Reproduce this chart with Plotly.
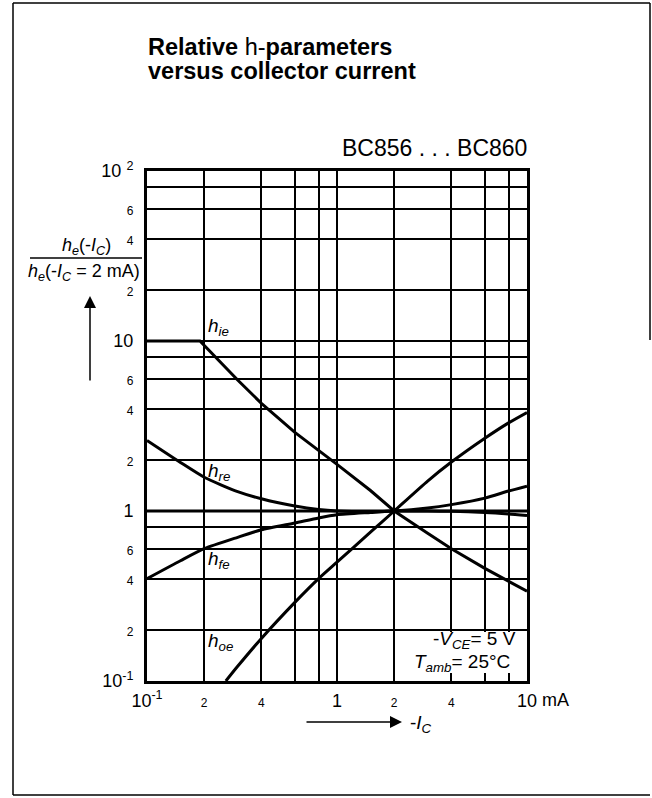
import math
import plotly.graph_objects as go

# ---- data ----
ic_hie = [0.1, 0.19, 0.3, 0.4, 0.6, 0.8, 1, 1.5, 2, 3, 4, 6, 8, 10]
hie = [10, 10, 5.9, 4.3, 2.9, 2.28, 1.88, 1.32, 1.0, 0.74, 0.6, 0.46, 0.385, 0.337]

ic_hre = [0.1, 0.15, 0.2, 0.3, 0.4, 0.6, 0.8, 1, 1.5, 2, 3, 4, 6, 8, 10]
hre = [2.6, 1.93, 1.58, 1.3, 1.18, 1.07, 1.02, 1.0, 0.99, 1.0, 1.04, 1.09, 1.19, 1.31, 1.40]

ic_hfe = [0.1, 0.15, 0.2, 0.3, 0.4, 0.6, 0.8, 1, 1.5, 2, 3, 4, 6, 8, 10]
hfe = [0.40, 0.51, 0.60, 0.70, 0.775, 0.85, 0.91, 0.95, 0.98, 1.0, 1.0, 0.995, 0.98, 0.96, 0.94]

ic_hoe = [0.26, 0.3, 0.4, 0.6, 0.8, 1, 1.5, 2, 3, 4, 6, 8, 10]
hoe = [0.1, 0.122, 0.178, 0.29, 0.40, 0.50, 0.75, 1.0, 1.5, 1.94, 2.68, 3.3, 3.8]

x_tickvals = [0.1, 0.2, 0.4, 1, 2, 4, 10]
x_ticktext = ["10<sup>-1</sup>", "2", "4", "1", "2", "4", "10"]
x_small = [False, True, True, False, True, True, False]
x_minor = [0.6, 0.8, 6, 8]

y_tickvals = [0.1, 0.2, 0.4, 0.6, 1, 2, 4, 6, 10, 20, 40, 60, 100]
y_ticktext = ["10<sup>-1</sup>", "2", "4", "6", "1", "2", "4", "6", "10", "2", "4", "6", "10 <sup>2</sup>"]
y_small = [False, True, True, True, False, True, True, True, False, True, True, True, False]
y_minor = [0.8, 8, 80]

curve_labels = ["h<sub>ie</sub>", "h<sub>re</sub>", "h<sub>fe</sub>", "h<sub>oe</sub>"]
curve_label_y = [12.1, 1.7, 0.515, 0.17]

FONT = "Liberation Sans"


def fmt(texts, smalls, small):
    out = []
    for t, s in zip(texts, smalls):
        if s:
            out.append('<span style="font-size:%dpx">%s</span>' % (small, t))
        else:
            out.append(t)
    return out


fig = go.Figure()
series = [(ic_hie, hie, "linear"), (ic_hre, hre, "spline"), (ic_hfe, hfe, "spline"), (ic_hoe, hoe, "spline")]
for xs, ys, shp in series:
    ln = dict(color="black", width=3, shape=shp)
    if shp == "spline":
        ln["smoothing"] = 0.6
    fig.add_trace(go.Scatter(x=xs, y=ys, mode="lines", line=ln, showlegend=False, hoverinfo="skip"))

W, H = 652, 798
L, R, T, B = 147, 125, 171, 117
pw, ph = W - L - R, H - T - B


def px(xp):
    return (xp - L) / pw


def py(yp):
    return (H - B - yp) / ph


fig.update_layout(
    width=W, height=H,
    margin=dict(l=L, r=R, t=T, b=B, pad=0),
    paper_bgcolor="white", plot_bgcolor="white",
    font=dict(family=FONT, color="black", size=18),
    showlegend=False,
)
fig.update_xaxes(type="log", range=[-1, 1], tickvals=x_tickvals,
                 ticktext=fmt(x_ticktext, x_small, 12),
                 showgrid=True, gridcolor="black", gridwidth=1.5,
                 minor=dict(tickvals=x_minor, showgrid=True, gridcolor="black", gridwidth=1.5, ticks=""),
                 showline=True, linecolor="black", linewidth=3, mirror=True,
                 ticks="", ticklabelstandoff=1, tickfont=dict(size=18, family=FONT))
fig.update_yaxes(type="log", range=[-1, 2], tickvals=y_tickvals,
                 ticktext=fmt(y_ticktext, y_small, 12),
                 showgrid=True, gridcolor="black", gridwidth=1.5,
                 minor=dict(tickvals=y_minor, showgrid=True, gridcolor="black", gridwidth=1.5, ticks=""),
                 showline=True, linecolor="black", linewidth=3, mirror=True,
                 ticks="", ticklabelstandoff=7, tickfont=dict(size=18, family=FONT))

shapes = []
# white patch behind the operating-condition text (no curve passes there)
shapes.append(dict(type="rect", xref="paper", yref="paper", x0=px(424), x1=px(524), y0=py(673), y1=py(632),
                   fillcolor="white", line=dict(width=0), layer="above"))
# thick grid lines at 1 mA, 1 and 10
shapes.append(dict(type="line", xref="x", yref="y domain", x0=0, x1=0, y0=0, y1=1, line=dict(color="black", width=3)))
for v in [1, 10]:
    lv = math.log10(v)
    shapes.append(dict(type="line", xref="x domain", yref="y", x0=0, x1=1, y0=lv, y1=lv, line=dict(color="black", width=3)))
# fraction bar of y-axis title
shapes.append(dict(type="line", xref="paper", yref="paper", x0=px(30), x1=px(142), y0=py(258), y1=py(258),
                   line=dict(color="black", width=1.5)))
# outer frame
fl, ft, fb, fr = 13, 3, 795, 650
shapes.append(dict(type="line", xref="paper", yref="paper", x0=px(fl), x1=px(fl), y0=py(ft), y1=py(fb), line=dict(color="black", width=1.5)))
shapes.append(dict(type="line", xref="paper", yref="paper", x0=px(fl), x1=px(fr), y0=py(ft), y1=py(ft), line=dict(color="black", width=1.5)))
shapes.append(dict(type="line", xref="paper", yref="paper", x0=px(fl), x1=px(fr), y0=py(fb), y1=py(fb), line=dict(color="black", width=1.5)))
shapes.append(dict(type="line", xref="paper", yref="paper", x0=px(fr), x1=px(fr), y0=py(ft), y1=py(340), line=dict(color="black", width=1.5)))
fig.update_layout(shapes=shapes)

ann = []
# title
ann.append(dict(xref="paper", yref="paper", x=px(146), y=py(47), xanchor="left", yanchor="middle", showarrow=False,
                text="<b>Relative</b> h-<b>parameters</b>", font=dict(size=23.5, family=FONT)))
ann.append(dict(xref="paper", yref="paper", x=px(146), y=py(71), xanchor="left", yanchor="middle", showarrow=False,
                text="<b>versus collector current</b>", font=dict(size=23.5, family=FONT)))
ann.append(dict(xref="paper", yref="paper", x=px(529), y=py(148), xanchor="right", yanchor="middle", showarrow=False,
                text="BC856 . . . BC860", font=dict(size=23, family=FONT)))
# y axis title fraction
ann.append(dict(xref="paper", yref="paper", x=px(86), y=py(246), xanchor="center", yanchor="middle", showarrow=False,
                text="<i>h<sub>e</sub></i>(-<i>I<sub>C</sub></i>)", font=dict(size=18, family=FONT)))
ann.append(dict(xref="paper", yref="paper", x=px(84), y=py(272), xanchor="center", yanchor="middle", showarrow=False,
                text="<i>h<sub>e</sub></i>(-<i>I<sub>C</sub></i> = 2 mA)", font=dict(size=18, family=FONT)))
# y arrow
ann.append(dict(xref="paper", yref="paper", x=px(90), y=py(296), ax=0, ay=86, text="", showarrow=True,
                arrowhead=2, arrowsize=1.6, arrowwidth=1.5, arrowcolor="black"))
# x arrow and label
ann.append(dict(xref="paper", yref="paper", x=px(402), y=py(722), ax=-97, ay=0, text="", showarrow=True,
                arrowhead=2, arrowsize=1.6, arrowwidth=1.5, arrowcolor="black"))
ann.append(dict(xref="paper", yref="paper", x=px(408), y=py(724), xanchor="left", yanchor="middle", showarrow=False,
                text="-<i>I<sub>C</sub></i>", font=dict(size=19, family=FONT)))
# unit
ann.append(dict(xref="x", yref="paper", x=1, y=py(700), xanchor="left", yanchor="middle", xshift=13, showarrow=False,
                text="mA", font=dict(size=18, family=FONT)))
# curve labels
for t, yv in zip(curve_labels, curve_label_y):
    ann.append(dict(xref="x", yref="y", x=math.log10(0.205), y=math.log10(yv), xanchor="left", yanchor="middle",
                    showarrow=False, text="<i>%s</i>" % t, font=dict(size=19, family=FONT)))
# conditions
ann.append(dict(xref="paper", yref="paper", x=px(518), y=py(640), xanchor="right", yanchor="middle", showarrow=False,
                text="-<i>V<sub>CE</sub></i>= 5 V", font=dict(size=19, family=FONT)))
ann.append(dict(xref="paper", yref="paper", x=px(512), y=py(663), xanchor="right", yanchor="middle", showarrow=False,
                text="<i>T<sub>amb</sub></i>= 25°C", font=dict(size=19, family=FONT)))
fig.update_layout(annotations=ann)

fig.write_html("out.html")
